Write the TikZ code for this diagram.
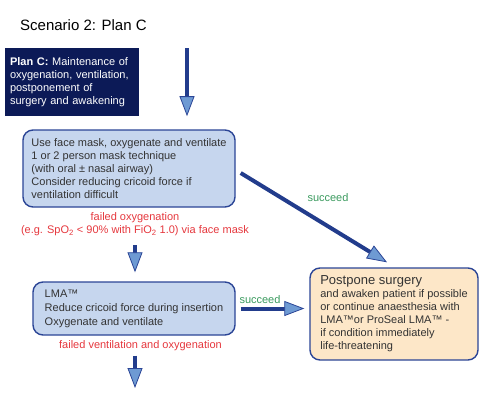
\documentclass[tikz,border=0pt]{standalone}
\usepackage{fontspec}
\setmainfont{Liberation Sans}
\usepackage{xcolor}
\usepackage{tikz}
\usetikzlibrary{arrows.meta}
\definecolor{navy}{HTML}{0C1A57}
\definecolor{edge}{HTML}{2B4596}
\definecolor{shaft}{HTML}{223C8C}
\definecolor{headfill}{HTML}{6E9AD3}
\definecolor{boxblue}{HTML}{C6D6EE}
\definecolor{peach}{HTML}{FDE7C8}
\definecolor{failred}{HTML}{E5373D}
\definecolor{okgreen}{HTML}{3A9A5E}
\definecolor{txt}{HTML}{333333}
\tikzset{
  stepbox/.style={draw=edge,line width=1.4pt,rounded corners=10pt,fill=boxblue,text=txt,align=left,
    inner sep=0pt,font=\fontsize{11}{13}\selectfont},
  flow/.style={draw=shaft,line width=4pt,-{Triangle[length=20pt,width=15pt,line width=0.8pt,color=edge,fill=headfill]}},
  fail/.style={text=failred,align=center,inner sep=0pt,font=\fontsize{11}{13}\selectfont},
  ok/.style={text=okgreen,inner sep=0pt,font=\fontsize{11}{13}\selectfont}
}
\begin{document}
\begin{tikzpicture}[x=1pt,y=-1pt]
\useasboundingbox(0,0)rectangle(480,400);
\node[anchor=west,inner sep=0pt,font=\fontsize{15}{17}\selectfont](title)at(20,25){Scenario 2: Plan C};
\node[fill=navy,text=white,align=left,inner xsep=5pt,text width=124pt,minimum height=68pt,
  font=\fontsize{11}{13}\selectfont](plan)at(72,82){\textbf{Plan C:} Maintenance of\\oxygenation, ventilation,\\postponement of\\surgery and awakening};
% main steps
\node[stepbox,minimum width=212pt,minimum height=77pt](mask)at(129,168.5)
  {Use face mask, oxygenate and ventilate\\1 or 2 person mask technique\\(with oral ± nasal airway)\\Consider reducing cricoid force if\\ventilation difficult};
\node[stepbox,minimum width=202pt,minimum height=53pt,font=\fontsize{11}{14}\selectfont](lma)at(134,308.5)
  {LMA™\\Reduce cricoid force during insertion\\Oxygenate and ventilate};
\node[stepbox,fill=peach,minimum width=168pt,minimum height=92pt](post)at(394,314)
  {{\fontsize{13}{14}\selectfont Postpone surgery}\\and awaken patient if possible\\or continue anaesthesia with\\LMA™or ProSeal LMA™ -\\if condition immediately\\life-threatening};
% labels
\node[fail](failox)at(135,224.5){failed oxygenation\\(e.g. SpO\textsubscript{2} < 90\% with FiO\textsubscript{2} 1.0) via face mask};
\node[fail](failvent)at(140.5,346){failed ventilation and oxygenation};
\node[ok](ok1)at(328,198){succeed};
\node[ok](ok2)at(260,300){succeed};
% arrows
\coordinate(in)at(187,48);
\coordinate(f1)at(135,245);
\coordinate(f2)at(135,388);
\draw[flow](in)--(in|-plan.south);
\draw[flow,shorten >=9pt](f1)--(f1|-lma.north);
\draw[flow,shorten <=20pt](f2|-lma.south)--(f2);
\draw[flow,shorten <=5pt,shorten >=5pt](lma.east)--(lma.east-|post.west);
\draw[flow]([xshift=5pt,yshift=-4.5pt]mask.east)--([xshift=-7pt,yshift=5pt]post.north);
\end{tikzpicture}
\end{document}
